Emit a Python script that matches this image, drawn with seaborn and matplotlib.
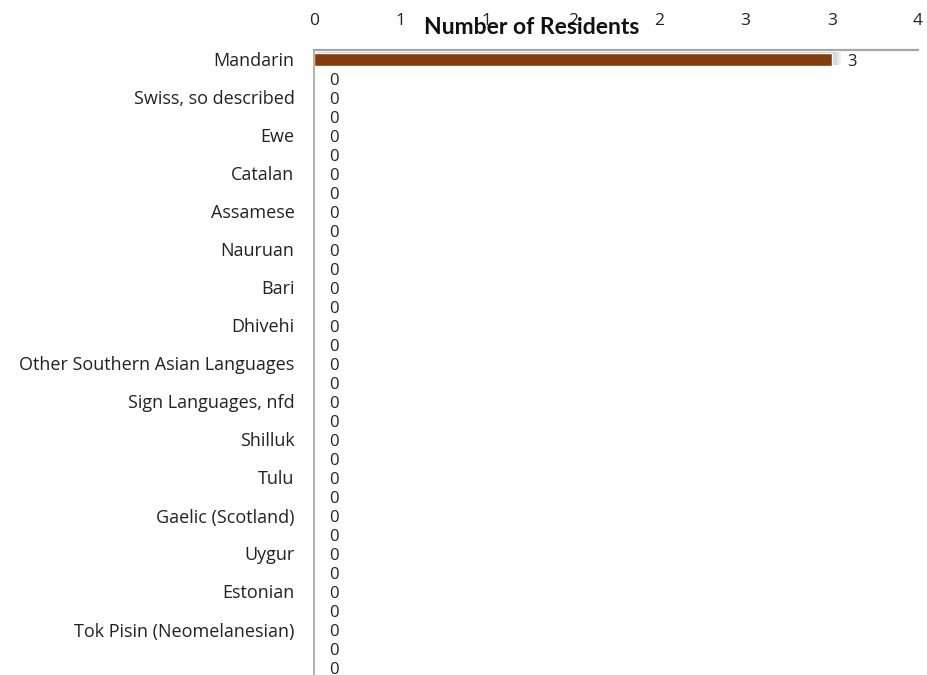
import matplotlib
matplotlib.use("Agg")
import matplotlib.pyplot as plt
import matplotlib.patheffects as pe
import seaborn as sns

# categories in chart order (only every other one carries a visible label)
languages = [
    "Mandarin", "Oromo", "Swiss, so described", "Tigrinya", "Ewe", "Kirundi",
    "Catalan", "Yoruba", "Assamese", "Fijian Hindustani", "Nauruan", "Dinka",
    "Bari", "Nuer", "Dhivehi", "Sinhalese", "Other Southern Asian Languages",
    "Auslan", "Sign Languages, nfd", "Acholi", "Shilluk", "Kannada", "Tulu",
    "Welsh", "Gaelic (Scotland)", "Kazakh", "Uygur", "Latvian", "Estonian",
    "Motu", "Tok Pisin (Neomelanesian)", "Tetum", "Bislama", "Kiribati",
]
residents = [3] + [0] * (len(languages) - 1)

tick_vals = [0, 0.5, 1, 1.5, 2, 2.5, 3, 3.5]
tick_text = ["0", "1", "1", "2", "2", "3", "3", "4"]

bar_color = "#843C0C"
axis_grey = "#A6A6A6"

sns.set_theme(style="white")
plt.rcParams["font.family"] = ["Open Sans", "DejaVu Sans"]

fig = plt.figure(figsize=(9.28, 6.75), dpi=100)
n = len(languages)
# plot area: top edge at y=50px, 19px per category, runs past the bottom of the figure
top_px, step_px = 50, 19
bottom_px = top_px + step_px * n
ax = fig.add_axes([314 / 928, 1 - bottom_px / 675, (918 - 314) / 928, (bottom_px - top_px) / 675])

sns.barplot(x=residents, y=languages, color=bar_color, width=0.66, saturation=1,
            orient="h", ax=ax)

# soft shadow to the right of / above the bar
shadow = [pe.SimplePatchShadow(offset=(k, 0.8), shadow_rgbFace="#8c8c8c", alpha=0.12)
          for k in (7, 5, 3.5, 2, 1)]
for p in ax.patches:
    p.set_path_effects(shadow + [pe.Normal()])

ax.set_xlim(0, 3.5)
ax.set_ylim(n - 0.5, -0.5)
ax.xaxis.tick_top()
ax.set_xticks(tick_vals)
ax.set_xticklabels(tick_text, fontsize=12.5, color="#222222")
ax.set_yticks(range(0, 31, 2))
ax.set_yticklabels(languages[0:31:2], fontsize=13, color="#222222")
ax.tick_params(axis="x", length=0, pad=15)
ax.tick_params(axis="y", length=0, pad=14)
ax.set_xlabel("")
ax.set_ylabel("")

for side in ["right", "bottom"]:
    ax.spines[side].set_visible(False)
ax.spines["left"].set_color(axis_grey)
ax.spines["left"].set_linewidth(1.2)
ax.spines["top"].set_color(axis_grey)
ax.spines["top"].set_linewidth(1.6)

for i, v in enumerate(residents):
    ax.annotate(str(v), xy=(v, i), xytext=(11, -2), textcoords="offset points",
                ha="left", va="center", fontsize=12, color="#222222")

fig.text(532 / 928, 1 - 28 / 675, "Number of Residents", ha="center", va="center",
         fontsize=16.5, fontweight="bold", family=["Lato", "DejaVu Sans"], color="#111111")

fig.savefig("out.png", dpi=100)
